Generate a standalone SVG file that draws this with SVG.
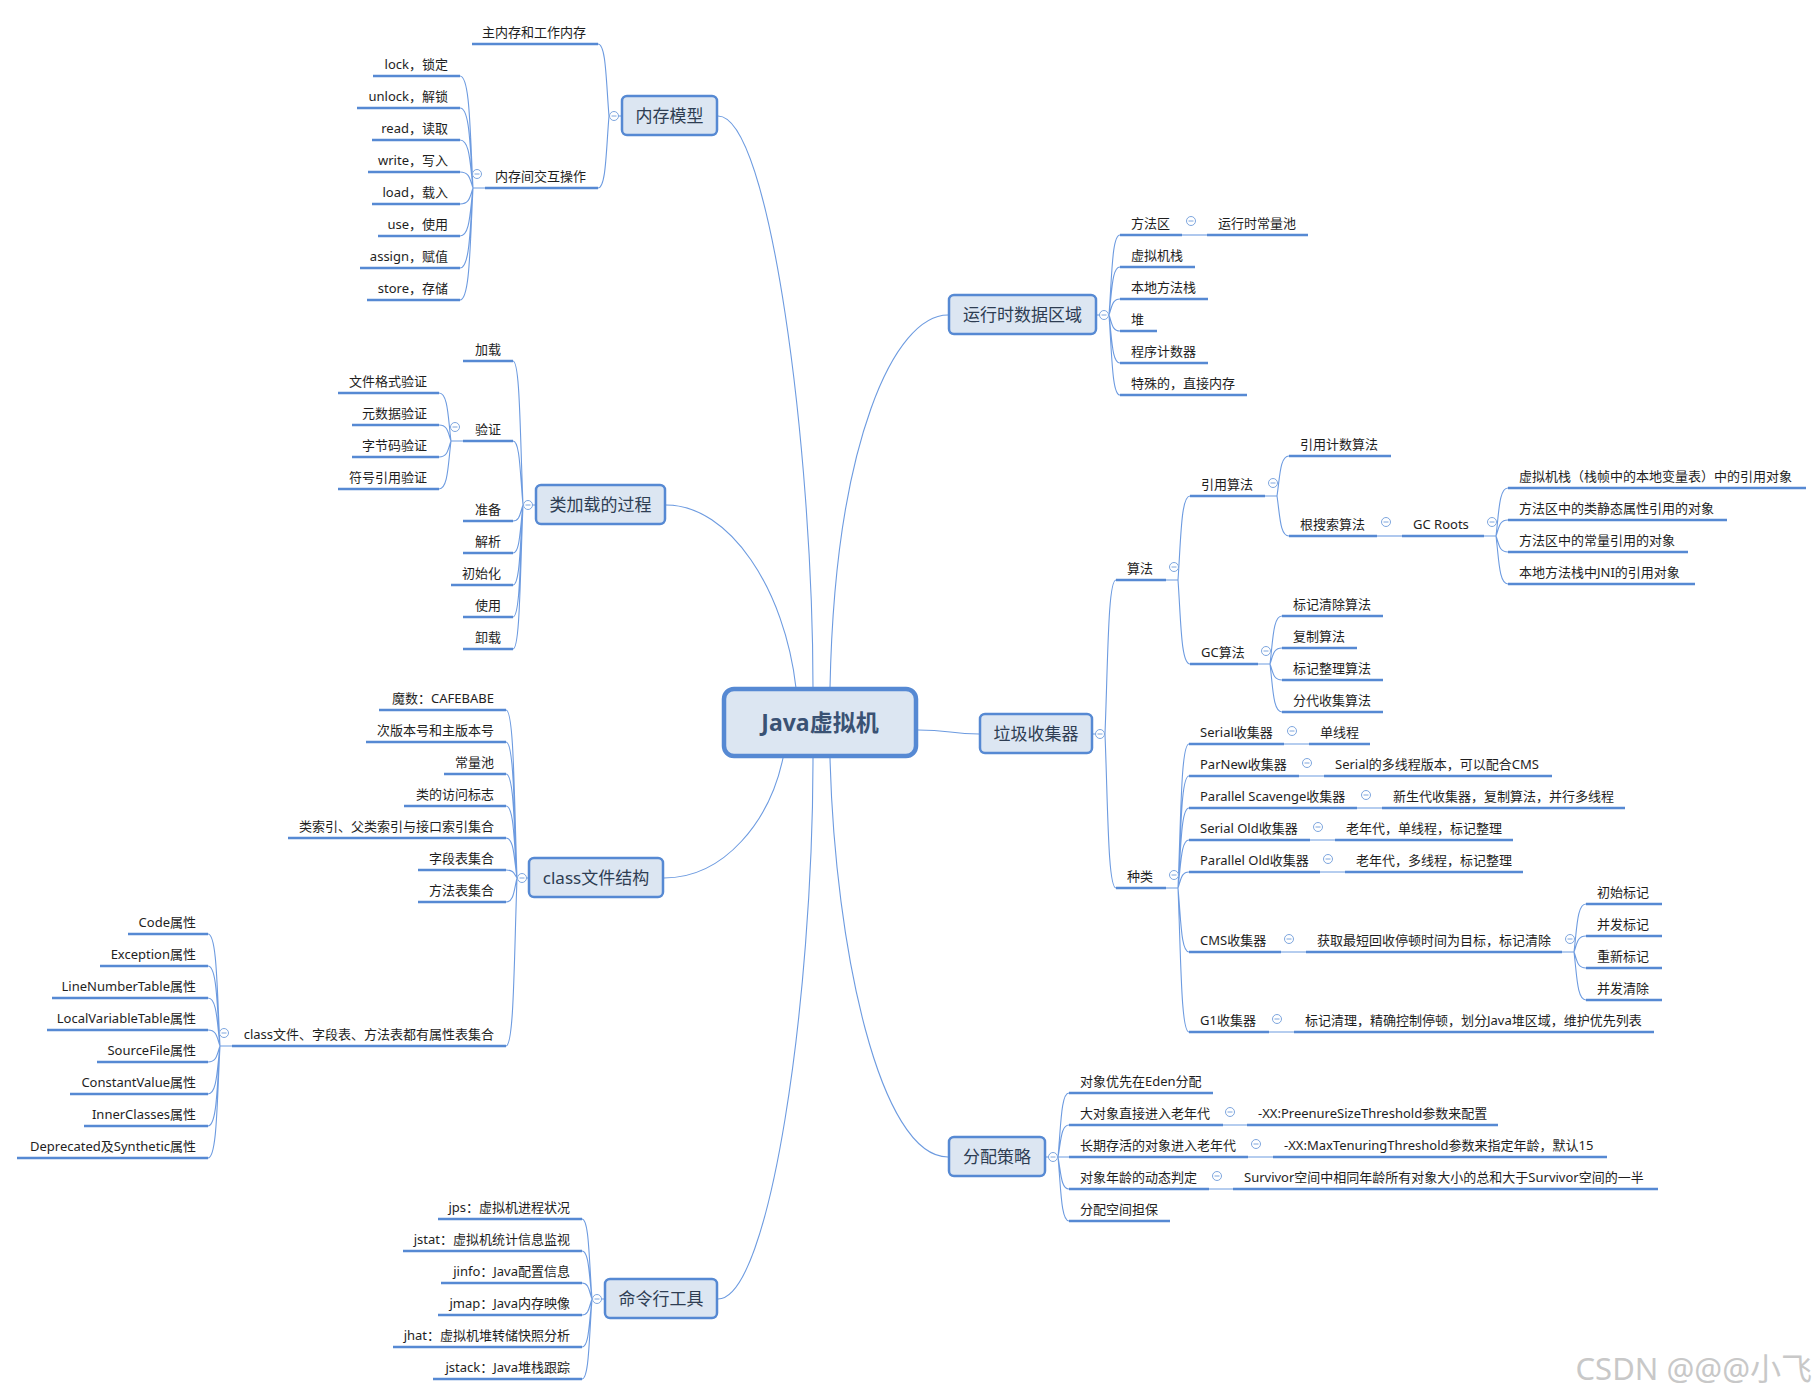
<svg xmlns="http://www.w3.org/2000/svg" xmlns:xlink="http://www.w3.org/1999/xlink" width="1820" height="1396" viewBox="0 0 1820 1396">
<style>
.ul{stroke:#5689d3;stroke-width:2.6;fill:none}
.c{fill:none;stroke:#6d9be0;stroke-width:1.1}
.t{font-family:"Noto Sans","Noto Sans CJK SC",sans-serif;font-size:13px;fill:#1e1e1e}
.e{text-anchor:end}
.box{fill:#dce6f2;stroke:#5689d3;stroke-width:2.5}
.bt{font-family:"Noto Sans","Noto Sans CJK SC",sans-serif;font-size:17px;fill:#2e3d52;text-anchor:middle}
.main{fill:#dce6f2;stroke:#5689d3;stroke-width:4.5}
.mt{font-family:"Noto Sans","Noto Sans CJK SC",sans-serif;font-size:23px;font-weight:bold;fill:#3a5274;text-anchor:middle}
.wm{font-family:"Noto Sans","Noto Sans CJK SC",sans-serif;font-size:31px;fill:#c8c8c8;text-anchor:end}
</style>
<defs>
<g id="cm"><circle r="4.5" fill="#fff" stroke="#7ea6de" stroke-width="1"/><path d="M-2.5 0H2.5" stroke="#7ea6de" stroke-width="1"/></g>
</defs>
<rect width="1820" height="1396" fill="#fff"/>
<g id="connectors" class="c">
<path d="M718 116C770 116 813 450 813 688"/>
<path d="M948 315C895 315 835 440 830 688"/>
<path d="M666 505C730 505 785 590 796 688"/>
<path d="M664 878C725 878 770 820 783 758"/>
<path d="M718 1299C770 1299 813 1000 813 758"/>
<path d="M948 1157C880 1157 835 950 830 758"/>
<path d="M918 730C950 730 950 734 979 734"/>
<path d="M621 116H609M609 116C606 80 606 44 598 44M609 116C606 152 606 188 598 188"/>
<path d="M485 188H473M473 188C470 132 470 76 460 76M473 188C470 148 470 108 460 108M473 188C470 164 470 140 460 140M473 188C470 180 470 172 460 172M473 188C470 196 470 204 460 204M473 188C470 212 470 236 460 236M473 188C470 228 470 268 460 268M473 188C470 244 470 300 460 300"/>
<path d="M535 505H523M523 505C520 433 520 361 513 361M523 505C520 473 520 441 513 441M523 505C520 513 520 521 513 521M523 505C520 529 520 553 513 553M523 505C520 545 520 585 513 585M523 505C520 561 520 617 513 617M523 505C520 577 520 649 513 649"/>
<path d="M463 441H451M451 441C448 417 448 393 439 393M451 441C448 433 448 425 439 425M451 441C448 449 448 457 439 457M451 441C448 465 448 489 439 489"/>
<path d="M528 878H517M517 878C514 794 514 710 506 710M517 878C514 810 514 742 506 742M517 878C514 826 514 774 506 774M517 878C514 842 514 806 506 806M517 878C514 858 514 838 506 838M517 878C514 874 514 870 506 870M517 878C514 890 514 902 506 902M517 878C514 962 514 1046 506 1046"/>
<path d="M232 1046H220M220 1046C217 990 217 934 208 934M220 1046C217 1006 217 966 208 966M220 1046C217 1022 217 998 208 998M220 1046C217 1038 217 1030 208 1030M220 1046C217 1054 217 1062 208 1062M220 1046C217 1070 217 1094 208 1094M220 1046C217 1086 217 1126 208 1126M220 1046C217 1102 217 1158 208 1158"/>
<path d="M604 1299H592M592 1299C589 1259 589 1219 582 1219M592 1299C589 1275 589 1251 582 1251M592 1299C589 1291 589 1283 582 1283M592 1299C589 1307 589 1315 582 1315M592 1299C589 1323 589 1347 582 1347M592 1299C589 1339 589 1379 582 1379"/>
<path d="M1097 315H1109M1109 315C1112 275 1112 235 1120 235M1109 315C1112 291 1112 267 1120 267M1109 315C1112 307 1112 299 1120 299M1109 315C1112 323 1112 331 1120 331M1109 315C1112 339 1112 363 1120 363M1109 315C1112 355 1112 395 1120 395"/>
<path d="M1182 235H1207"/>
<path d="M1093 734H1105M1105 734C1108 657 1108 580 1116 580M1105 734C1108 811 1108 888 1116 888"/>
<path d="M1166 580H1178M1178 580C1181 538 1181 496 1190 496M1178 580C1181 622 1181 664 1190 664"/>
<path d="M1265 496H1277M1277 496C1280 476 1280 456 1289 456M1277 496C1280 516 1280 536 1289 536"/>
<path d="M1377 536H1402"/>
<path d="M1484 536H1496M1496 536C1499 512 1499 488 1508 488M1496 536C1499 528 1499 520 1508 520M1496 536C1499 544 1499 552 1508 552M1496 536C1499 560 1499 584 1508 584"/>
<path d="M1258 664H1270M1270 664C1273 640 1273 616 1282 616M1270 664C1273 656 1273 648 1282 648M1270 664C1273 672 1273 680 1282 680M1270 664C1273 688 1273 712 1282 712"/>
<path d="M1166 888H1178M1178 888C1181 816 1181 744 1189 744M1178 888C1181 832 1181 776 1189 776M1178 888C1181 848 1181 808 1189 808M1178 888C1181 864 1181 840 1189 840M1178 888C1181 880 1181 872 1189 872M1178 888C1181 920 1181 952 1189 952M1178 888C1181 960 1181 1032 1189 1032"/>
<path d="M1284 744H1309M1299 776H1324M1357 808H1382M1310 840H1335M1320 872H1345M1281 952H1306M1269 1032H1294"/>
<path d="M1562 952H1574M1574 952C1577 928 1577 904 1586 904M1574 952C1577 944 1577 936 1586 936M1574 952C1577 960 1577 968 1586 968M1574 952C1577 976 1577 1000 1586 1000"/>
<path d="M1046 1157H1058M1058 1157C1061 1125 1061 1093 1069 1093M1058 1157C1061 1141 1061 1125 1069 1125M1058 1157C1061 1157 1061 1157 1069 1157M1058 1157C1061 1173 1061 1189 1069 1189M1058 1157C1061 1189 1061 1221 1069 1221"/>
<path d="M1223 1125H1247M1248 1157H1273M1209 1189H1233"/>
</g>

<g id="n-jvm"><rect class="main" x="724" y="689" width="192" height="67" rx="10"/><text class="mt" x="820" y="731">Java虚拟机</text></g>

<g id="n-memmodel"><rect class="box" x="622" y="96" width="95" height="39" rx="5"/><text class="bt" x="669.5" y="122">内存模型</text><use xlink:href="#cm" x="614" y="116"/></g>
<g id="n-mainmem"><path class="ul" d="M472 44H598"/><text class="t e" x="586" y="37">主内存和工作内存</text></g>
<g id="n-memops"><path class="ul" d="M485 188H598"/><text class="t e" x="586" y="181">内存间交互操作</text><use xlink:href="#cm" x="477" y="174"/></g>
<g id="n-lock"><path class="ul" d="M373 76H460"/><text class="t e" x="448" y="69">lock，锁定</text></g>
<g id="n-unlock"><path class="ul" d="M357 108H460"/><text class="t e" x="448" y="101">unlock，解锁</text></g>
<g id="n-read"><path class="ul" d="M372 140H460"/><text class="t e" x="448" y="133">read，读取</text></g>
<g id="n-write"><path class="ul" d="M368 172H460"/><text class="t e" x="448" y="165">write，写入</text></g>
<g id="n-load"><path class="ul" d="M372 204H460"/><text class="t e" x="448" y="197">load，载入</text></g>
<g id="n-use"><path class="ul" d="M378 236H460"/><text class="t e" x="448" y="229">use，使用</text></g>
<g id="n-assign"><path class="ul" d="M360 268H460"/><text class="t e" x="448" y="261">assign，赋值</text></g>
<g id="n-store"><path class="ul" d="M367 300H460"/><text class="t e" x="448" y="293">store，存储</text></g>

<g id="n-classload"><rect class="box" x="536" y="485" width="129" height="39" rx="5"/><text class="bt" x="600.5" y="511">类加载的过程</text><use xlink:href="#cm" x="528" y="505"/></g>
<g id="n-cl-load"><path class="ul" d="M463 361H513"/><text class="t e" x="501" y="354">加载</text></g>
<g id="n-cl-verify"><path class="ul" d="M463 441H513"/><text class="t e" x="501" y="434">验证</text><use xlink:href="#cm" x="455" y="427"/></g>
<g id="n-v1"><path class="ul" d="M338 393H439"/><text class="t e" x="427" y="386">文件格式验证</text></g>
<g id="n-v2"><path class="ul" d="M352 425H439"/><text class="t e" x="427" y="418">元数据验证</text></g>
<g id="n-v3"><path class="ul" d="M352 457H439"/><text class="t e" x="427" y="450">字节码验证</text></g>
<g id="n-v4"><path class="ul" d="M338 489H439"/><text class="t e" x="427" y="482">符号引用验证</text></g>
<g id="n-cl-prep"><path class="ul" d="M463 521H513"/><text class="t e" x="501" y="514">准备</text></g>
<g id="n-cl-resolve"><path class="ul" d="M463 553H513"/><text class="t e" x="501" y="546">解析</text></g>
<g id="n-cl-init"><path class="ul" d="M451 585H513"/><text class="t e" x="501" y="578">初始化</text></g>
<g id="n-cl-use"><path class="ul" d="M463 617H513"/><text class="t e" x="501" y="610">使用</text></g>
<g id="n-cl-unload"><path class="ul" d="M463 649H513"/><text class="t e" x="501" y="642">卸载</text></g>

<g id="n-classfile"><rect class="box" x="529" y="858" width="134" height="39" rx="5"/><text class="bt" x="596" y="884">class文件结构</text><use xlink:href="#cm" x="522" y="878"/></g>
<g id="n-cf1"><path class="ul" d="M379 710H506"/><text class="t e" x="494" y="703">魔数：CAFEBABE</text></g>
<g id="n-cf2"><path class="ul" d="M366 742H506"/><text class="t e" x="494" y="735">次版本号和主版本号</text></g>
<g id="n-cf3"><path class="ul" d="M444 774H506"/><text class="t e" x="494" y="767">常量池</text></g>
<g id="n-cf4"><path class="ul" d="M404 806H506"/><text class="t e" x="494" y="799">类的访问标志</text></g>
<g id="n-cf5"><path class="ul" d="M288 838H506"/><text class="t e" x="494" y="831">类索引、父类索引与接口索引集合</text></g>
<g id="n-cf6"><path class="ul" d="M418 870H506"/><text class="t e" x="494" y="863">字段表集合</text></g>
<g id="n-cf7"><path class="ul" d="M418 902H506"/><text class="t e" x="494" y="895">方法表集合</text></g>
<g id="n-cf8"><path class="ul" d="M232 1046H506"/><text class="t e" x="494" y="1039">class文件、字段表、方法表都有属性表集合</text><use xlink:href="#cm" x="224" y="1033"/></g>
<g id="n-a1"><path class="ul" d="M128 934H208"/><text class="t e" x="196" y="927">Code属性</text></g>
<g id="n-a2"><path class="ul" d="M100 966H208"/><text class="t e" x="196" y="959">Exception属性</text></g>
<g id="n-a3"><path class="ul" d="M52 998H208"/><text class="t e" x="196" y="991">LineNumberTable属性</text></g>
<g id="n-a4"><path class="ul" d="M47 1030H208"/><text class="t e" x="196" y="1023">LocalVariableTable属性</text></g>
<g id="n-a5"><path class="ul" d="M97 1062H208"/><text class="t e" x="196" y="1055">SourceFile属性</text></g>
<g id="n-a6"><path class="ul" d="M70 1094H208"/><text class="t e" x="196" y="1087">ConstantValue属性</text></g>
<g id="n-a7"><path class="ul" d="M84 1126H208"/><text class="t e" x="196" y="1119">InnerClasses属性</text></g>
<g id="n-a8"><path class="ul" d="M17 1158H208"/><text class="t e" x="196" y="1151">Deprecated及Synthetic属性</text></g>

<g id="n-tools"><rect class="box" x="605" y="1279" width="112" height="39" rx="5"/><text class="bt" x="661" y="1305">命令行工具</text><use xlink:href="#cm" x="597" y="1299"/></g>
<g id="n-jps"><path class="ul" d="M438 1219H582"/><text class="t e" x="570" y="1212">jps：虚拟机进程状况</text></g>
<g id="n-jstat"><path class="ul" d="M403 1251H582"/><text class="t e" x="570" y="1244">jstat：虚拟机统计信息监视</text></g>
<g id="n-jinfo"><path class="ul" d="M441 1283H582"/><text class="t e" x="570" y="1276">jinfo：Java配置信息</text></g>
<g id="n-jmap"><path class="ul" d="M438 1315H582"/><text class="t e" x="570" y="1308">jmap：Java内存映像</text></g>
<g id="n-jhat"><path class="ul" d="M393 1347H582"/><text class="t e" x="570" y="1340">jhat：虚拟机堆转储快照分析</text></g>
<g id="n-jstack"><path class="ul" d="M433 1379H582"/><text class="t e" x="570" y="1372">jstack：Java堆栈跟踪</text></g>

<g id="n-runtime"><rect class="box" x="949" y="295" width="147" height="39" rx="5"/><text class="bt" x="1022.5" y="321">运行时数据区域</text><use xlink:href="#cm" x="1104" y="315"/></g>
<g id="n-rt1"><path class="ul" d="M1120 235H1182"/><text class="t" x="1131" y="228">方法区</text><use xlink:href="#cm" x="1191" y="221"/></g>
<g id="n-rt1a"><path class="ul" d="M1207 235H1308"/><text class="t" x="1218" y="228">运行时常量池</text></g>
<g id="n-rt2"><path class="ul" d="M1120 267H1195"/><text class="t" x="1131" y="260">虚拟机栈</text></g>
<g id="n-rt3"><path class="ul" d="M1120 299H1208"/><text class="t" x="1131" y="292">本地方法栈</text></g>
<g id="n-rt4"><path class="ul" d="M1120 331H1157"/><text class="t" x="1131" y="324">堆</text></g>
<g id="n-rt5"><path class="ul" d="M1120 363H1208"/><text class="t" x="1131" y="356">程序计数器</text></g>
<g id="n-rt6"><path class="ul" d="M1120 395H1247"/><text class="t" x="1131" y="388">特殊的，直接内存</text></g>

<g id="n-gc"><rect class="box" x="980" y="714" width="112" height="39" rx="5"/><text class="bt" x="1036" y="740">垃圾收集器</text><use xlink:href="#cm" x="1100" y="734"/></g>
<g id="n-alg"><path class="ul" d="M1116 580H1166"/><text class="t" x="1127" y="573">算法</text><use xlink:href="#cm" x="1174" y="567"/></g>
<g id="n-ref"><path class="ul" d="M1190 496H1265"/><text class="t" x="1201" y="489">引用算法</text><use xlink:href="#cm" x="1273" y="483"/></g>
<g id="n-refcount"><path class="ul" d="M1289 456H1391"/><text class="t" x="1300" y="449">引用计数算法</text></g>
<g id="n-rootsearch"><path class="ul" d="M1289 536H1377"/><text class="t" x="1300" y="529">根搜索算法</text><use xlink:href="#cm" x="1386" y="522"/></g>
<g id="n-gcroots"><path class="ul" d="M1402 536H1484"/><text class="t" x="1413" y="529">GC Roots</text><use xlink:href="#cm" x="1492" y="522"/></g>
<g id="n-gr1"><path class="ul" d="M1508 488H1806"/><text class="t" x="1519" y="481">虚拟机栈（栈帧中的本地变量表）中的引用对象</text></g>
<g id="n-gr2"><path class="ul" d="M1508 520H1727"/><text class="t" x="1519" y="513">方法区中的类静态属性引用的对象</text></g>
<g id="n-gr3"><path class="ul" d="M1508 552H1688"/><text class="t" x="1519" y="545">方法区中的常量引用的对象</text></g>
<g id="n-gr4"><path class="ul" d="M1508 584H1695"/><text class="t" x="1519" y="577">本地方法栈中JNI的引用对象</text></g>
<g id="n-gcalg"><path class="ul" d="M1190 664H1258"/><text class="t" x="1201" y="657">GC算法</text><use xlink:href="#cm" x="1266" y="651"/></g>
<g id="n-ga1"><path class="ul" d="M1282 616H1383"/><text class="t" x="1293" y="609">标记清除算法</text></g>
<g id="n-ga2"><path class="ul" d="M1282 648H1357"/><text class="t" x="1293" y="641">复制算法</text></g>
<g id="n-ga3"><path class="ul" d="M1282 680H1383"/><text class="t" x="1293" y="673">标记整理算法</text></g>
<g id="n-ga4"><path class="ul" d="M1282 712H1383"/><text class="t" x="1293" y="705">分代收集算法</text></g>
<g id="n-kinds"><path class="ul" d="M1116 888H1166"/><text class="t" x="1127" y="881">种类</text><use xlink:href="#cm" x="1174" y="875"/></g>
<g id="n-serial"><path class="ul" d="M1189 744H1284"/><text class="t" x="1200" y="737">Serial收集器</text><use xlink:href="#cm" x="1292" y="731"/></g>
<g id="n-serial-d"><path class="ul" d="M1309 744H1370"/><text class="t" x="1320" y="737">单线程</text></g>
<g id="n-parnew"><path class="ul" d="M1189 776H1299"/><text class="t" x="1200" y="769">ParNew收集器</text><use xlink:href="#cm" x="1307" y="763"/></g>
<g id="n-parnew-d"><path class="ul" d="M1324 776H1552"/><text class="t" x="1335" y="769">Serial的多线程版本，可以配合CMS</text></g>
<g id="n-ps"><path class="ul" d="M1189 808H1357"/><text class="t" x="1200" y="801">Parallel Scavenge收集器</text><use xlink:href="#cm" x="1366" y="795"/></g>
<g id="n-ps-d"><path class="ul" d="M1382 808H1625"/><text class="t" x="1393" y="801">新生代收集器，复制算法，并行多线程</text></g>
<g id="n-so"><path class="ul" d="M1189 840H1310"/><text class="t" x="1200" y="833">Serial Old收集器</text><use xlink:href="#cm" x="1318" y="827"/></g>
<g id="n-so-d"><path class="ul" d="M1335 840H1513"/><text class="t" x="1346" y="833">老年代，单线程，标记整理</text></g>
<g id="n-po"><path class="ul" d="M1189 872H1320"/><text class="t" x="1200" y="865">Parallel Old收集器</text><use xlink:href="#cm" x="1328" y="859"/></g>
<g id="n-po-d"><path class="ul" d="M1345 872H1523"/><text class="t" x="1356" y="865">老年代，多线程，标记整理</text></g>
<g id="n-cms"><path class="ul" d="M1189 952H1281"/><text class="t" x="1200" y="945">CMS收集器</text><use xlink:href="#cm" x="1289" y="939"/></g>
<g id="n-cms-d"><path class="ul" d="M1306 952H1562"/><text class="t" x="1317" y="945">获取最短回收停顿时间为目标，标记清除</text><use xlink:href="#cm" x="1570" y="939"/></g>
<g id="n-cms1"><path class="ul" d="M1586 904H1662"/><text class="t" x="1597" y="897">初始标记</text></g>
<g id="n-cms2"><path class="ul" d="M1586 936H1662"/><text class="t" x="1597" y="929">并发标记</text></g>
<g id="n-cms3"><path class="ul" d="M1586 968H1662"/><text class="t" x="1597" y="961">重新标记</text></g>
<g id="n-cms4"><path class="ul" d="M1586 1000H1662"/><text class="t" x="1597" y="993">并发清除</text></g>
<g id="n-g1"><path class="ul" d="M1189 1032H1269"/><text class="t" x="1200" y="1025">G1收集器</text><use xlink:href="#cm" x="1277" y="1019"/></g>
<g id="n-g1-d"><path class="ul" d="M1294 1032H1654"/><text class="t" x="1305" y="1025">标记清理，精确控制停顿，划分Java堆区域，维护优先列表</text></g>

<g id="n-alloc"><rect class="box" x="949" y="1137" width="96" height="39" rx="5"/><text class="bt" x="997" y="1163">分配策略</text><use xlink:href="#cm" x="1053" y="1157"/></g>
<g id="n-al1"><path class="ul" d="M1069 1093H1213"/><text class="t" x="1080" y="1086">对象优先在Eden分配</text></g>
<g id="n-al2"><path class="ul" d="M1069 1125H1223"/><text class="t" x="1080" y="1118">大对象直接进入老年代</text><use xlink:href="#cm" x="1230" y="1112"/></g>
<g id="n-al2d"><path class="ul" d="M1247 1125H1498"/><text class="t" x="1258" y="1118">-XX:PreenureSizeThreshold参数来配置</text></g>
<g id="n-al3"><path class="ul" d="M1069 1157H1248"/><text class="t" x="1080" y="1150">长期存活的对象进入老年代</text><use xlink:href="#cm" x="1256" y="1144"/></g>
<g id="n-al3d"><path class="ul" d="M1273 1157H1607"/><text class="t" x="1284" y="1150">-XX:MaxTenuringThreshold参数来指定年龄，默认15</text></g>
<g id="n-al4"><path class="ul" d="M1069 1189H1209"/><text class="t" x="1080" y="1182">对象年龄的动态判定</text><use xlink:href="#cm" x="1217" y="1176"/></g>
<g id="n-al4d"><path class="ul" d="M1233 1189H1658"/><text class="t" x="1244" y="1182">Survivor空间中相同年龄所有对象大小的总和大于Survivor空间的一半</text></g>
<g id="n-al5"><path class="ul" d="M1069 1221H1170"/><text class="t" x="1080" y="1214">分配空间担保</text></g>

<text class="wm" x="1812" y="1380">CSDN @@@小飞</text>
</svg>
